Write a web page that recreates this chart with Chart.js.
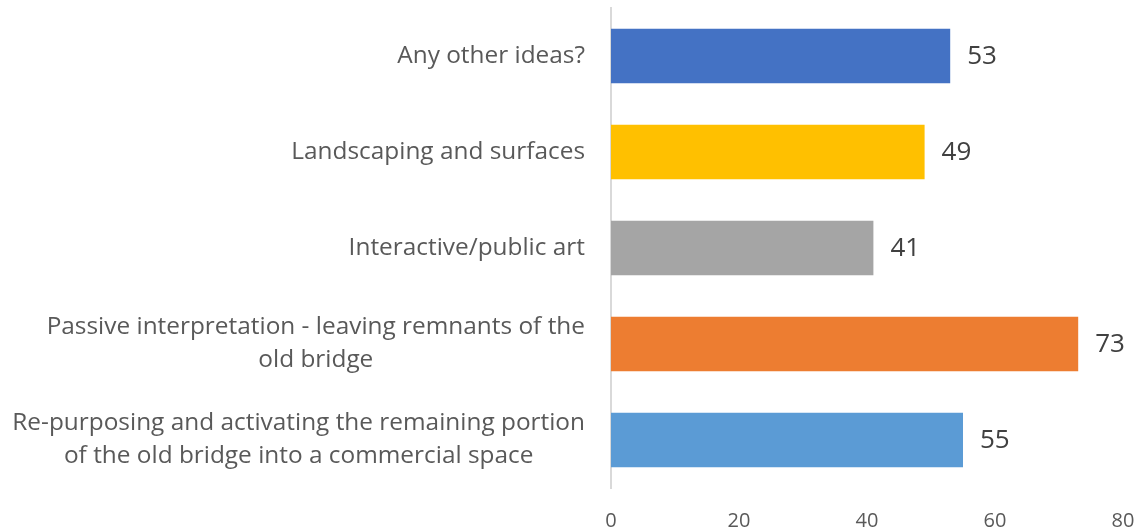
<!DOCTYPE html>
<html>
<head>
<meta charset="UTF-8">
<title>Ideas for the old bridge</title>
<script src="https://cdn.jsdelivr.net/npm/chart.js@4.4.1/dist/chart.umd.min.js"></script>
<style>
  html, body { margin: 0; padding: 0; background: #fff; }
  #wrap { width: 1140px; height: 531px; position: relative; }
</style>
</head>
<body>
<div id="wrap"><canvas id="chart"></canvas></div>
<script>
// Responses per idea, top to bottom
var categories = [
    'Any other ideas?',
    'Landscaping and surfaces',
    'Interactive/public art',
    ['Passive interpretation - leaving remnants of the', 'old bridge'],
    ['Re-purposing and activating the remaining portion', 'of the old bridge into a commercial space']
];
var counts = [53, 49, 41, 73, 55];
var barColors = ['#4472C4', '#FFC000', '#A5A5A5', '#ED7D31', '#5B9BD5'];
var xTicks = [0, 20, 40, 60, 80];

var FONT = '"Open Sans", Lato, sans-serif';

// Category labels: single lines right-aligned, wrapped lines centred on each other
var categoryLabels = {
    id: 'categoryLabels',
    afterDraw: function (chart) {
        var ctx = chart.ctx;
        var y = chart.scales.y;
        var right = y.right - 26;
        var lineH = 33;
        ctx.save();
        ctx.font = '24.4px ' + FONT;
        ctx.fillStyle = '#595959';
        ctx.textAlign = 'center';
        ctx.textBaseline = 'middle';
        categories.forEach(function (label, i) {
            var lines = Array.isArray(label) ? label : [label];
            var w = 0;
            lines.forEach(function (l) { w = Math.max(w, ctx.measureText(l).width); });
            var cx = right - w / 2;
            var cy = y.getPixelForValue(i) - (lines.length - 1) * lineH / 2;
            lines.forEach(function (l, j) {
                ctx.fillText(l, cx, cy + j * lineH);
            });
        });
        ctx.restore();
    }
};

// Value printed just past the end of each bar
var valueLabels = {
    id: 'valueLabels',
    afterDatasetsDraw: function (chart) {
        var ctx = chart.ctx;
        var meta = chart.getDatasetMeta(0);
        ctx.save();
        ctx.font = '26px ' + FONT;
        ctx.fillStyle = '#404040';
        ctx.textAlign = 'left';
        ctx.textBaseline = 'middle';
        meta.data.forEach(function (bar, i) {
            ctx.fillText(String(counts[i]), bar.x + 17, bar.y + 1);
        });
        ctx.restore();
    }
};

new Chart(document.getElementById('chart'), {
    type: 'bar',
    data: {
        labels: categories,
        datasets: [{
            data: counts,
            backgroundColor: barColors,
            borderWidth: 0,
            barPercentage: 0.57,
            categoryPercentage: 1
        }]
    },
    options: {
        indexAxis: 'y',
        responsive: true,
        maintainAspectRatio: false,
        animation: false,
        layout: { padding: { top: 8, right: 0, left: 0, bottom: 0 } },
        plugins: {
            legend: { display: false },
            tooltip: { enabled: false }
        },
        scales: {
            x: {
                min: 0,
                max: 80,
                afterBuildTicks: function (scale) {
                    scale.ticks = xTicks.map(function (v) { return { value: v }; });
                },
                grid: { display: false },
                border: { display: false },
                ticks: {
                    color: '#595959',
                    font: { family: FONT, size: 20 },
                    padding: 13
                },
                afterFit: function (scale) {
                    scale.height = 43;
                    scale.paddingLeft = 0;
                    scale.paddingRight = 17;
                }
            },
            y: {
                grid: { display: false },
                border: { display: true, color: '#D9D9D9', width: 2 },
                ticks: { display: false },
                afterFit: function (scale) { scale.width = 611; }
            }
        }
    },
    plugins: [categoryLabels, valueLabels]
});
</script>
</body>
</html>
